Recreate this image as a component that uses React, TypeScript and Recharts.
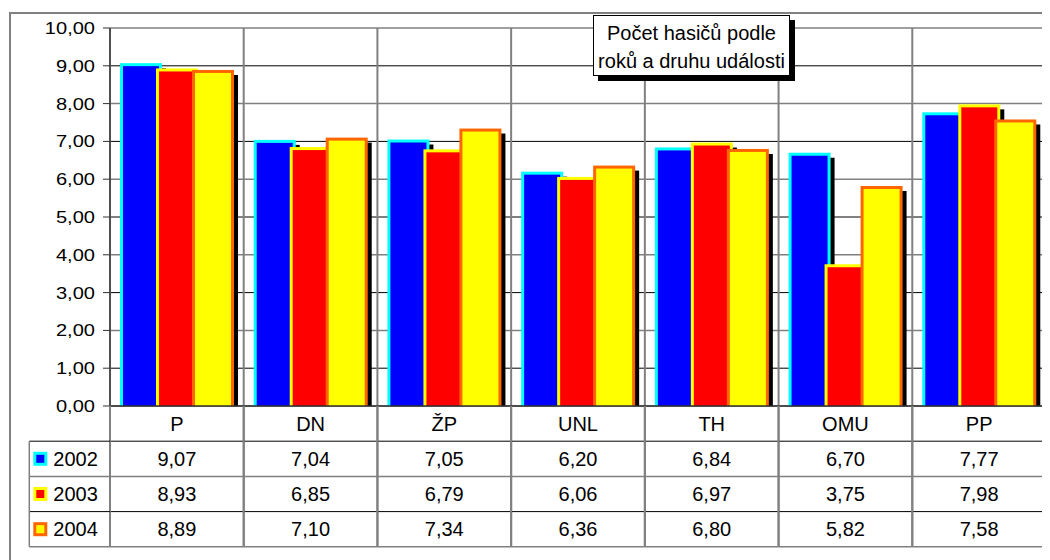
import React from 'react';
import { BarChart, Bar, XAxis, YAxis, CartesianGrid } from 'recharts';

const categories = ['P', 'DN', 'ŽP', 'UNL', 'TH', 'OMU', 'PP'];
const years = ['2002', '2003', '2004'];
const values2002 = [9.07, 7.04, 7.05, 6.2, 6.84, 6.7, 7.77];
const values2003 = [8.93, 6.85, 6.79, 6.06, 6.97, 3.75, 7.98];
const values2004 = [8.89, 7.1, 7.34, 6.36, 6.8, 5.82, 7.58];
const yTicks = [0, 1, 2, 3, 4, 5, 6, 7, 8, 9, 10];

const FONT = '"Liberation Sans", Arial, sans-serif';
const W = 1042;
const H = 552;
const MARGIN = { top: 20, right: 4, bottom: 9, left: 0 };
const Y_W = 102;
const X_H = 145;
const PLOT_W = W - MARGIN.left - MARGIN.right - Y_W;
const CAT_W = PLOT_W / categories.length;
const ROW_H = 35.2;
const LEGEND_X = 21.3;

// colours per year: border, fill
const styles = [
  { border: '#00ffff', fill: '#0000ff' },
  { border: '#ffff00', fill: '#ff0000' },
  { border: '#ff6600', fill: '#ffff00' },
];

const data = categories.map((c, i) => ({
  name: c,
  y2002: values2002[i],
  y2003: values2003[i],
  y2004: values2004[i],
}));
const series = [values2002, values2003, values2004];

const fmt = (v: number) => v.toFixed(2).replace('.', ',');

// bar with a frame and a black drop shadow, Excel style
const makeShape = (border: string, fill: string) => (props: any) => {
  const { x, y, width, height } = props;
  if (!height || height <= 0) return <g />;
  return (
    <g>
      <rect x={x + 4} y={y + 5} width={width} height={Math.max(0, height - 5)} fill="#000" />
      <rect x={x} y={y} width={width} height={height} fill={border} />
      <rect x={x + 3} y={y + 3} width={width - 6} height={height - 3} fill={fill} />
    </g>
  );
};

const lineColor = (k: number) => (k % 2 === 1 ? '#000' : '#808080');

const GridLine = (props: any) => {
  const { x1, y1, x2, y2, index } = props;
  return <line x1={x1} y1={y1} x2={x2} y2={y2} stroke={lineColor(index)} strokeWidth={index % 2 === 1 ? 1 : 1.5} />;
};

const YTick = (props: any) => {
  const { x, y, payload } = props;
  return (
    <text
      transform={`translate(${x},${y}) scale(1.18,1)`}
      textAnchor="end"
      dominantBaseline="central"
      fontSize={17}
      fontFamily={FONT}
      fill="#000"
    >
      {fmt(payload.value)}
    </text>
  );
};

// category label plus the data table column under it
const TableTick = (props: any) => {
  const { x, y, payload, index } = props;
  const left = x - CAT_W / 2;
  const right = x + CAT_W / 2;
  const bottom = y + ROW_H * 4;
  return (
    <g fontFamily={FONT} fontSize={20} fill="#000">
      <text x={x} y={y + ROW_H / 2} textAnchor="middle" dominantBaseline="central">
        {payload.value}
      </text>
      {series.map((vals, s) => (
        <text key={s} x={x} y={y + ROW_H * (s + 1.5)} textAnchor="middle" dominantBaseline="central">
          {fmt(vals[index])}
        </text>
      ))}
      {[1, 2, 3, 4].map((k) => (
        <line key={k} x1={left} x2={right} y1={y + ROW_H * k} y2={y + ROW_H * k} stroke={lineColor(k)} strokeWidth={k % 2 === 1 ? 1 : 1.5} />
      ))}
      <line x1={left} x2={left} y1={y} y2={bottom} stroke="#808080" strokeWidth={2} />
      <line x1={right} x2={right} y1={y} y2={bottom} stroke="#808080" strokeWidth={2} />
      {index === 0 && (
        <g>
          {[1, 2, 3, 4].map((k) => (
            <line key={k} x1={LEGEND_X} x2={left} y1={y + ROW_H * k} y2={y + ROW_H * k} stroke={lineColor(k)} strokeWidth={k % 2 === 1 ? 1 : 1.5} />
          ))}
          <line x1={LEGEND_X} x2={LEGEND_X} y1={y + ROW_H} y2={bottom} stroke="#808080" strokeWidth={1.5} />
          {years.map((yr, s) => {
            const cy = y + ROW_H * (s + 1.5);
            return (
              <g key={yr}>
                <rect x={LEGEND_X + 4} y={cy - 7} width={14} height={14} fill={styles[s].border} />
                <rect x={LEGEND_X + 7} y={cy - 4} width={8} height={8} fill={styles[s].fill} />
                <text x={LEGEND_X + 24} y={cy} dominantBaseline="central">
                  {yr}
                </text>
              </g>
            );
          })}
        </g>
      )}
    </g>
  );
};

export default function App() {
  return (
    <div style={{ position: 'relative', width: W, height: H, overflow: 'hidden', fontFamily: FONT }}>
      <div
        style={{
          position: 'absolute',
          left: 1,
          top: 4,
          width: W + 20,
          height: H + 20,
          border: '2px solid #808080',
          boxSizing: 'border-box',
        }}
      />
      <div style={{ position: 'absolute', left: 0, top: 0 }}>
        <BarChart width={W} height={H} data={data} margin={MARGIN} barSize={42} barGap={-6}>
          <CartesianGrid
            horizontal={(p: any) => <GridLine {...p} />}
            stroke="#808080"
            strokeWidth={2}
            verticalCoordinatesGenerator={({ offset }: any) =>
              categories.map((_, i) => offset.left + ((i + 1) * offset.width) / categories.length)
            }
          />
          <XAxis
            dataKey="name"
            height={X_H}
            tickSize={0}
            tickMargin={0}
            tickLine={false}
            interval={0}
            axisLine={{ stroke: '#303030', strokeWidth: 1.5 }}
            tick={<TableTick />}
          />
          <YAxis
            width={Y_W}
            domain={[0, 10]}
            ticks={yTicks}
            interval={0}
            tickSize={7}
            tickMargin={8}
            axisLine={{ stroke: '#505050', strokeWidth: 2 }}
            tickLine={{ stroke: '#303030' }}
            tick={<YTick />}
          />
          {['y2002', 'y2003', 'y2004'].map((key, s) => (
            <Bar
              key={key}
              dataKey={key}
              isAnimationActive={false}
              shape={makeShape(styles[s].border, styles[s].fill)}
            />
          ))}
        </BarChart>
      </div>
      <div
        style={{
          position: 'absolute',
          left: 585,
          top: 7,
          width: 197,
          height: 61,
          boxSizing: 'border-box',
          border: '1px solid #000',
          background: '#fff',
          boxShadow: '5px 5px 0 #000',
          fontSize: 20,
          lineHeight: '28px',
          paddingTop: 3,
          textAlign: 'center',
          color: '#000',
          whiteSpace: 'nowrap',
        }}
      >
        Počet hasičů podle
        <br />
        roků a druhu události
      </div>
    </div>
  );
}
